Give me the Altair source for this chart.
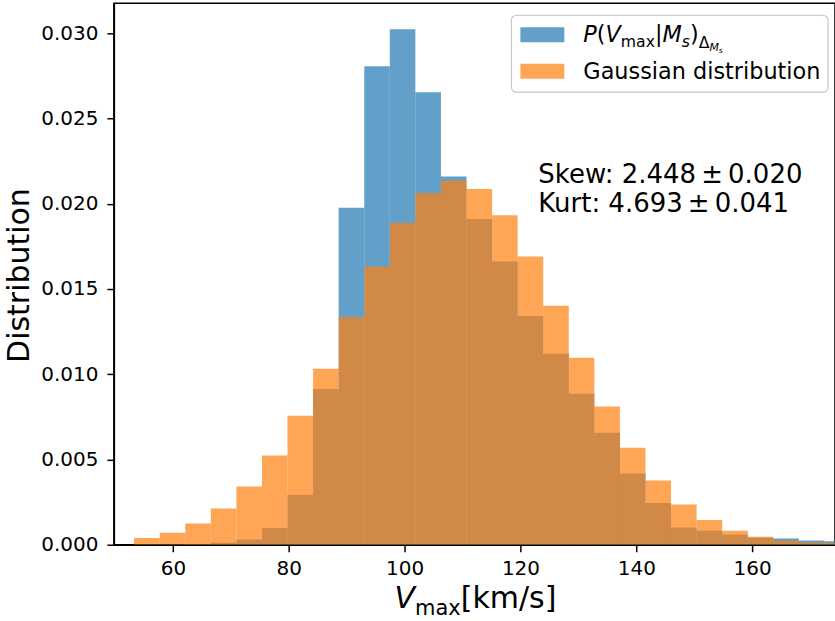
import altair as alt
import pandas as pd

# ---- data ----
bin_edges = [53.30, 57.71, 62.13, 66.54, 70.96, 75.37, 79.78, 84.20, 88.61, 93.03,
             97.44, 101.85, 106.27, 110.68, 115.10, 119.51, 123.92, 128.34, 132.75,
             137.17, 141.58, 145.99, 150.41, 154.82, 159.24, 163.65, 168.06, 172.48, 176.89]
p_vmax = [0.0, 0.0, 0.00003, 0.00012, 0.00031, 0.00098, 0.00293, 0.00914, 0.01977,
          0.02806, 0.03023, 0.02654, 0.02159, 0.01911, 0.01661, 0.01342, 0.01120,
          0.00885, 0.00657, 0.00418, 0.00244, 0.00101, 0.00082, 0.00060, 0.00041,
          0.00037, 0.00025, 0.00020]
gaussian = [0.00039, 0.00070, 0.00125, 0.00213, 0.00342, 0.00524, 0.00756, 0.01032,
            0.01335, 0.01632, 0.01888, 0.02063, 0.02136, 0.02087, 0.01933, 0.01690,
            0.01401, 0.01096, 0.00811, 0.00569, 0.00377, 0.00236, 0.00145, 0.00082,
            0.00047, 0.00025, 0.00013, 0.00010]
x_ticks = [60, 80, 100, 120, 140, 160]
y_ticks = [0.000, 0.005, 0.010, 0.015, 0.020, 0.025, 0.030]
skew_text = "Skew: 2.448\u2009±\u20090.020"
kurt_text = "Kurt: 4.693\u2009±\u20090.041"
legend_gauss = "Gaussian distribution"

# ---- layout ----
PAD_L, PAD_T = 114, 3
W, H = 722, 542
X_DOM = [49.8, 174.3]
Y_DOM = [0, 0.03175]
FONT = "DejaVu Sans"
BLUE, ORANGE = "#1f77b4", "#ff7f0e"

def hist_df(vals):
    return pd.DataFrame({"x0": bin_edges[:-1], "x1": bin_edges[1:], "y": vals})

xs = alt.Scale(domain=X_DOM, nice=False, zero=False)
ys = alt.Scale(domain=Y_DOM, nice=False)

def hist_layer(vals, color, with_axes=False):
    if with_axes:
        xenc = alt.X("x0:Q", scale=xs, axis=alt.Axis(values=x_ticks, format="d", title=None))
        yenc = alt.Y("y:Q", scale=ys, axis=alt.Axis(
            values=y_ticks, format=".3f", title="Distribution",
            titleX=-85, titleY=272, titleAngle=-90, titleAlign="center",
            titleBaseline="alphabetic", titleFontSize=30, titleFont=FONT,
            titleFontWeight="normal", titleColor="black"))
    else:
        xenc = alt.X("x0:Q", scale=xs)
        yenc = alt.Y("y:Q", scale=ys)
    return alt.Chart(hist_df(vals)).mark_rect(
        color=color, opacity=0.7, clip=True
    ).encode(x=xenc, x2="x1:Q", y=yenc, y2=alt.datum(0))

# ---- text pieces (advance widths of DejaVu Sans, em units) ----
ADV = {"P": .603, "(": .390, "V": .684, "m": .974, "a": .613, "x": .592, "|": .337,
       "M": .863, "s": .521, ")": .390, "Δ": .684, "[": .390, "k": .579, "/": .337,
       "]": .390}

def build(pieces, x_start, base_y):
    """pieces: (text, size, italic, dy). returns rows in plot pixel coords."""
    rows = []
    x = x_start
    for t, size, ital, dy in pieces:
        rows.append({"t": t, "px": x - PAD_L, "py": base_y + dy - PAD_T,
                     "fs": size, "it": ital})
        x += sum(ADV.get(c, .6) for c in t) * size
    return rows

L = 22.4
S1 = L * 0.7
S2 = S1 * 0.7
legend1 = build([("P", L, True, 0), ("(", L, False, 0), ("V", L, True, 0),
                 ("max", S1, False, 5), ("|", L, False, 0), ("M", L, True, 0),
                 ("s", S1, True, 5), (")", L, False, 0), ("Δ", S1, False, 6),
                 ("M", S2, True, 9), ("s", S2 * 0.7, True, 11)], 584, 42)
xtitle = build([("V", 30, True, 0), ("max", 21, False, 7), ("[km/s]", 30, False, 0)],
               395, 608)
plain_rows = [
    {"t": legend_gauss, "px": 584 - PAD_L, "py": 79 - PAD_T, "fs": L, "it": False},
    {"t": skew_text, "px": 539 - PAD_L, "py": 183 - PAD_T, "fs": 26, "it": False},
    {"t": kurt_text, "px": 539 - PAD_L, "py": 211.5 - PAD_T, "fs": 26, "it": False},
]
txt = pd.DataFrame(legend1 + xtitle + plain_rows)

def text_layer(italic):
    return alt.Chart(txt[txt["it"] == italic]).mark_text(
        align="left", baseline="alphabetic", font=FONT, color="black",
        fontStyle="italic" if italic else "normal"
    ).encode(x=alt.X("px:Q", scale=None), y=alt.Y("py:Q", scale=None),
             size=alt.Size("fs:Q", scale=None, legend=None), text="t:N")

# ---- legend frame and patches ----
frame = alt.Chart(pd.DataFrame({"a": [0]})).mark_rect(
    fill="white", fillOpacity=0.8, stroke="#cccccc", strokeWidth=1.3, cornerRadius=5
).encode(x=alt.value(512 - PAD_L), x2=alt.value(829 - PAD_L),
         y=alt.value(15 - PAD_T), y2=alt.value(92 - PAD_T))
patch_b = alt.Chart(pd.DataFrame({"a": [0]})).mark_rect(color=BLUE, opacity=0.7).encode(
    x=alt.value(521 - PAD_L), x2=alt.value(565 - PAD_L),
    y=alt.value(27 - PAD_T), y2=alt.value(42 - PAD_T))
patch_o = alt.Chart(pd.DataFrame({"a": [0]})).mark_rect(color=ORANGE, opacity=0.7).encode(
    x=alt.value(521 - PAD_L), x2=alt.value(565 - PAD_L),
    y=alt.value(63.5 - PAD_T), y2=alt.value(78.5 - PAD_T))

chart = alt.layer(
    hist_layer(p_vmax, BLUE, with_axes=True),
    hist_layer(gaussian, ORANGE),
    frame, patch_b, patch_o,
    text_layer(False), text_layer(True),
).properties(
    width=W, height=H, background="white",
    autosize=alt.AutoSizeParams(type="none"),
    padding={"left": PAD_L, "top": PAD_T, "right": 0, "bottom": 621 - PAD_T - H},
).configure_view(
    stroke="black", strokeWidth=1.5
).configure_axis(
    labelFont=FONT, labelFontSize=20, labelColor="black",
    domainColor="black", domainWidth=1.5, tickColor="black", tickWidth=1.5,
    tickSize=7, grid=False, labelPadding=7
).configure_axisY(labelPadding=9)

chart.save("out.html", embed_options={"renderer": "svg", "actions": False})
